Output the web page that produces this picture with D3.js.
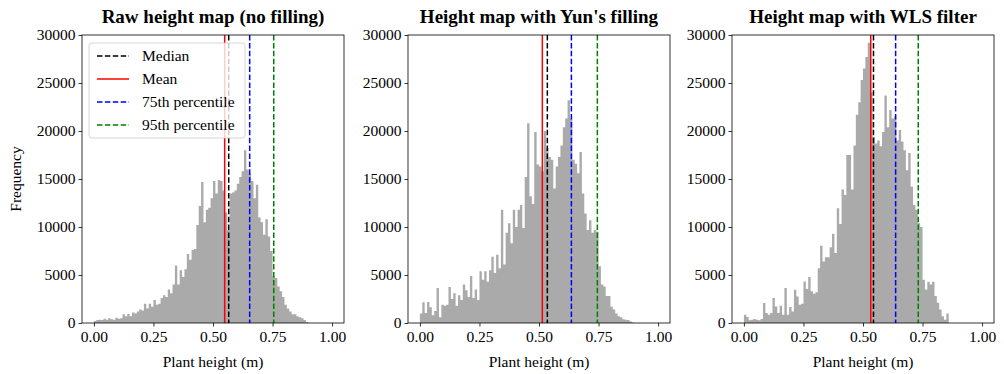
<!DOCTYPE html>
<head>
  <meta charset="utf-8">
  <script src="https://d3js.org/d3.v7.min.js"></script>
  <style>
body {
	margin:0;
	background:#fff;
	}
text {
	font-family: "Liberation Serif", "Times New Roman", serif;
	fill: #000;
	}
.title {
	font-size: 19px;
	font-weight: bold;
	}
.tick text, .lab, .leg {
	font-size: 15.5px;
	}
  </style>
</head>

<body>
<div id="graph"></div>
<script>
// bin counts for 100 bins of width 0.01 on [0, 1]
var rawCounts = [200,300,350,300,450,350,500,400,350,550,
  450,500,900,700,950,700,1100,1000,1200,1400,
  1300,2000,1500,2000,1700,2400,1900,2000,2600,2900,
  2700,3500,3100,4000,6000,4000,5500,4800,5600,7200,
  6600,7600,7700,10200,12200,14700,10500,11800,12000,13000,
  14800,13500,14900,14800,13800,11500,9700,13500,13600,13800,
  14500,15200,15800,18000,16000,15600,14800,13000,14400,11000,
  10500,9200,10800,9000,7500,4900,4700,3800,3300,2700,
  1900,1500,1200,900,900,700,600,500,300,100,
  0,0,0,0,0,0,0,0,0,0];

var yunCounts = [1000,2150,1050,2200,1650,800,1250,3650,600,1900,
  1800,1900,3750,2500,3100,1800,2900,2400,4000,3400,
  2700,4900,2600,3500,2400,5400,4500,5400,4300,5500,
  6900,5200,7100,5700,11800,6100,9400,10400,8300,11800,
  10000,11800,12300,9900,15200,20800,13200,12400,19900,16500,
  16300,15800,20000,18200,17300,17000,14000,16300,17300,18500,
  20400,21300,23200,21300,17000,16600,15600,17800,13500,11400,
  9700,10700,9400,9700,9500,5900,4000,3800,2800,2800,
  1700,1400,1000,700,600,400,350,300,150,50,
  0,0,0,0,0,0,0,0,0,0];

var wlsCounts = [870,620,280,350,420,350,280,420,2080,1040,
  870,1040,2600,1730,1040,1800,870,3640,870,1660,
  1210,3470,2770,1900,2000,4330,3530,4780,3300,3050,
  3200,5700,8040,6400,6850,6850,7900,9290,7280,11950,
  10300,13900,13340,17500,17500,13900,18500,21700,23000,25300,
  26500,27700,29200,24000,19400,18700,19000,18400,19900,23700,
  20400,22200,21300,21500,19000,20100,18900,18000,15900,17700,
  14200,12300,11800,10400,10000,4500,3500,4300,4000,4300,
  2800,2100,1400,700,350,1000,0,0,0,0,
  0,0,0,0,0,0,0,0,0,0];

var titles = ["Raw height map (no filling)", "Height map with Yun's filling", "Height map with WLS filter"];
// statistics per panel: median, mean, 75th, 95th percentile (m)
var medians = [0.566, 0.535, 0.544];
var means = [0.549, 0.514, 0.5325];
var p75s = [0.654, 0.636, 0.637];
var p95s = [0.755, 0.745, 0.732];
var xTicks = [0, 0.25, 0.5, 0.75, 1.0];
var yTicks = [0, 5000, 10000, 15000, 20000, 25000, 30000];
var legendLabels = ["Median", "Mean", "75th percentile", "95th percentile"];

var allCounts = [rawCounts, yunCounts, wlsCounts];
var binWidth = 0.01;

var W = 1004, H = 374;
var lefts = [82, 408, 732],
  axW = 262, axTop = 35, axBottom = 323;

var svg = d3.select("#graph").append("svg")
  .attr("width", W).attr("height", H);

var lineStyles = [
  {color: "#000000", dash: "5.5,2.4"},
  {color: "#ff0000", dash: null},
  {color: "#0000ff", dash: "5.5,2.4"},
  {color: "#008000", dash: "5.5,2.4"}
];

allCounts.forEach(function(counts, p) {
  var x = d3.scaleLinear().domain([-0.05, 1.05]).range([lefts[p], lefts[p] + axW]);
  var y = d3.scaleLinear().domain([0, 30000]).range([axBottom, axTop]);
  var g = svg.append("g");

  // histogram as a stepped area
  var pts = counts.map(function(c, i) { return {x0: i * binWidth, c: c}; });
  pts.push({x0: counts.length * binWidth, c: counts[counts.length - 1]});
  var area = d3.area()
    .x(function(d) { return x(d.x0); })
    .y0(y(0))
    .y1(function(d) { return y(d.c); })
    .curve(d3.curveStepAfter);
  g.append("path").datum(pts)
    .attr("d", area)
    .attr("fill", "#aaaaaa");

  // vertical stat lines
  var vals = [medians[p], means[p], p75s[p], p95s[p]];
  vals.forEach(function(v, k) {
    g.append("line")
      .attr("x1", x(v)).attr("x2", x(v))
      .attr("y1", axTop).attr("y2", axBottom)
      .attr("stroke", lineStyles[k].color)
      .attr("stroke-width", 1.5)
      .attr("stroke-dasharray", lineStyles[k].dash);
  });

  // axes
  var xa = g.append("g")
    .attr("transform", "translate(0," + axBottom + ")")
    .call(d3.axisBottom(x).tickValues(xTicks).tickFormat(d3.format(".2f"))
      .tickSize(3.5).tickPadding(4));
  var ya = g.append("g")
    .attr("transform", "translate(" + lefts[p] + ",0)")
    .call(d3.axisLeft(y).tickValues(yTicks).tickFormat(d3.format("d"))
      .tickSize(3.5).tickPadding(3));
  [xa, ya].forEach(function(a) {
    a.select(".domain").remove();
    a.attr("font-family", null).attr("font-size", null);
    a.selectAll("line").attr("stroke", "#000").attr("stroke-width", 0.8);
  });

  // frame
  g.append("rect")
    .attr("x", lefts[p]).attr("y", axTop)
    .attr("width", axW).attr("height", axBottom - axTop)
    .attr("fill", "none").attr("stroke", "#000").attr("stroke-width", 0.8);

  g.append("text").attr("class", "title")
    .attr("x", lefts[p] + axW / 2).attr("y", 23)
    .attr("text-anchor", "middle").text(titles[p]);

  g.append("text").attr("class", "lab")
    .attr("x", lefts[p] + axW / 2).attr("y", 367)
    .attr("text-anchor", "middle").text("Plant height (m)");

  if (p === 0) {
    svg.append("text").attr("class", "lab")
      .attr("transform", "translate(21," + (axTop + axBottom) / 2 + ") rotate(-90)")
      .attr("text-anchor", "middle").text("Frequency");

    // legend
    var lg = svg.append("g").attr("transform", "translate(89,43)");
    lg.append("rect")
      .attr("width", 156).attr("height", 95).attr("rx", 3)
      .attr("fill", "#ffffff").attr("fill-opacity", 0.8)
      .attr("stroke", "#cccccc").attr("stroke-width", 0.8);
    legendLabels.forEach(function(t, k) {
      var yy = 13 + k * 23;
      lg.append("line")
        .attr("x1", 8).attr("x2", 40).attr("y1", yy).attr("y2", yy)
        .attr("stroke", lineStyles[k].color).attr("stroke-width", 1.5)
        .attr("stroke-dasharray", lineStyles[k].dash);
      lg.append("text").attr("class", "leg")
        .attr("x", 53).attr("y", yy + 5).text(t);
    });
  }
});
</script>
</body>
